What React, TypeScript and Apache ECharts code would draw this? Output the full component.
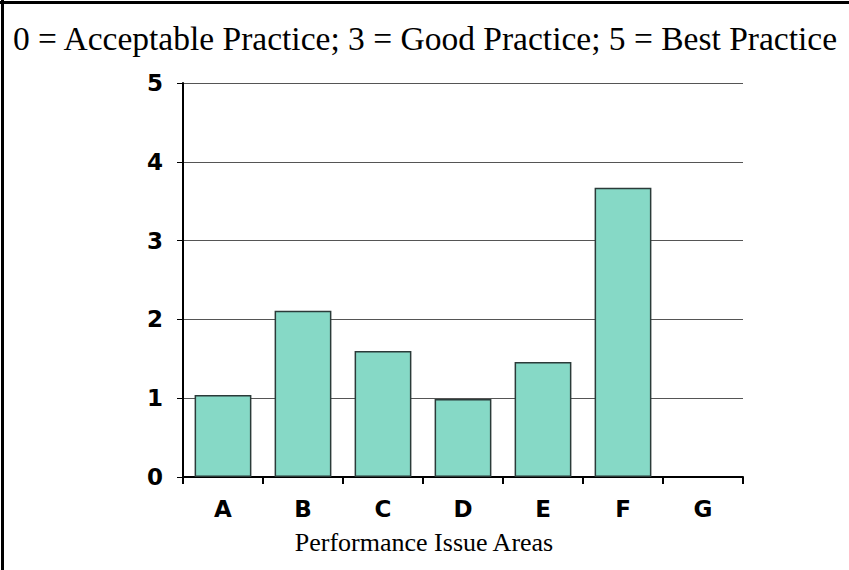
import React, { useEffect, useRef } from "react";
import * as echarts from "echarts";

const categories = ["A", "B", "C", "D", "E", "F", "G"];
const scores: (number | null)[] = [1.04, 2.11, 1.6, 0.99, 1.46, 3.67, null];
const yTicks = [0, 1, 2, 3, 4, 5];
const titleText = "0 = Acceptable Practice; 3 = Good Practice; 5 = Best Practice";
const xAxisName = "Performance Issue Areas";

export default function App() {
  const ref = useRef<HTMLDivElement>(null);
  useEffect(() => {
    document.body.style.margin = "0";
    const chart = echarts.init(ref.current!, null, { renderer: "svg" });
    chart.setOption({
      animation: false,
      backgroundColor: "#ffffff",
      grid: { left: 183, right: 106, top: 83, bottom: 93 },
      graphic: [
        { type: "line", shape: { x1: 0, y1: 2.5, x2: 849, y2: 2.5 }, style: { stroke: "#000", lineWidth: 3 } },
        { type: "line", shape: { x1: 2.5, y1: 0, x2: 2.5, y2: 570 }, style: { stroke: "#000", lineWidth: 3 } },
        {
          type: "text",
          x: 425,
          y: 38,
          style: {
            text: titleText,
            font: "33.5px 'Liberation Serif', serif",
            fill: "#000",
            align: "center",
            verticalAlign: "middle",
          },
        },
        {
          type: "text",
          x: 424,
          y: 542,
          style: {
            text: xAxisName,
            font: "26px 'Liberation Serif', serif",
            fill: "#000",
            align: "center",
            verticalAlign: "middle",
          },
        },
      ],
      xAxis: {
        type: "category",
        data: categories,
        boundaryGap: true,
        axisLine: { lineStyle: { color: "#000", width: 2 } },
        axisTick: { show: true, length: 7, lineStyle: { color: "#000", width: 2 } },
        axisLabel: {
          color: "#000",
          fontFamily: "'DejaVu Sans', sans-serif",
          fontWeight: "bold",
          fontSize: 23,
          margin: 20,
        },
      },
      yAxis: {
        type: "value",
        min: 0,
        max: 5,
        interval: 1,
        axisLine: { show: true, lineStyle: { color: "#000", width: 2 } },
        axisTick: { show: true, length: 6, lineStyle: { color: "#000", width: 1 } },
        axisLabel: {
          color: "#000",
          fontFamily: "'DejaVu Sans', sans-serif",
          fontWeight: "bold",
          fontSize: 23,
          margin: 20,
          formatter: (v: number) => (yTicks.includes(v) ? String(v) : ""),
        },
        splitLine: { show: true, lineStyle: { color: "#555", width: 1 } },
      },
      series: [
        {
          type: "bar",
          data: scores,
          barWidth: "71%",
          itemStyle: { color: "#86d9c6", borderColor: "#2b3b39", borderWidth: 1.5 },
        },
      ],
    });
    return () => chart.dispose();
  }, []);
  return <div ref={ref} style={{ width: 849, height: 570 }} />;
}
